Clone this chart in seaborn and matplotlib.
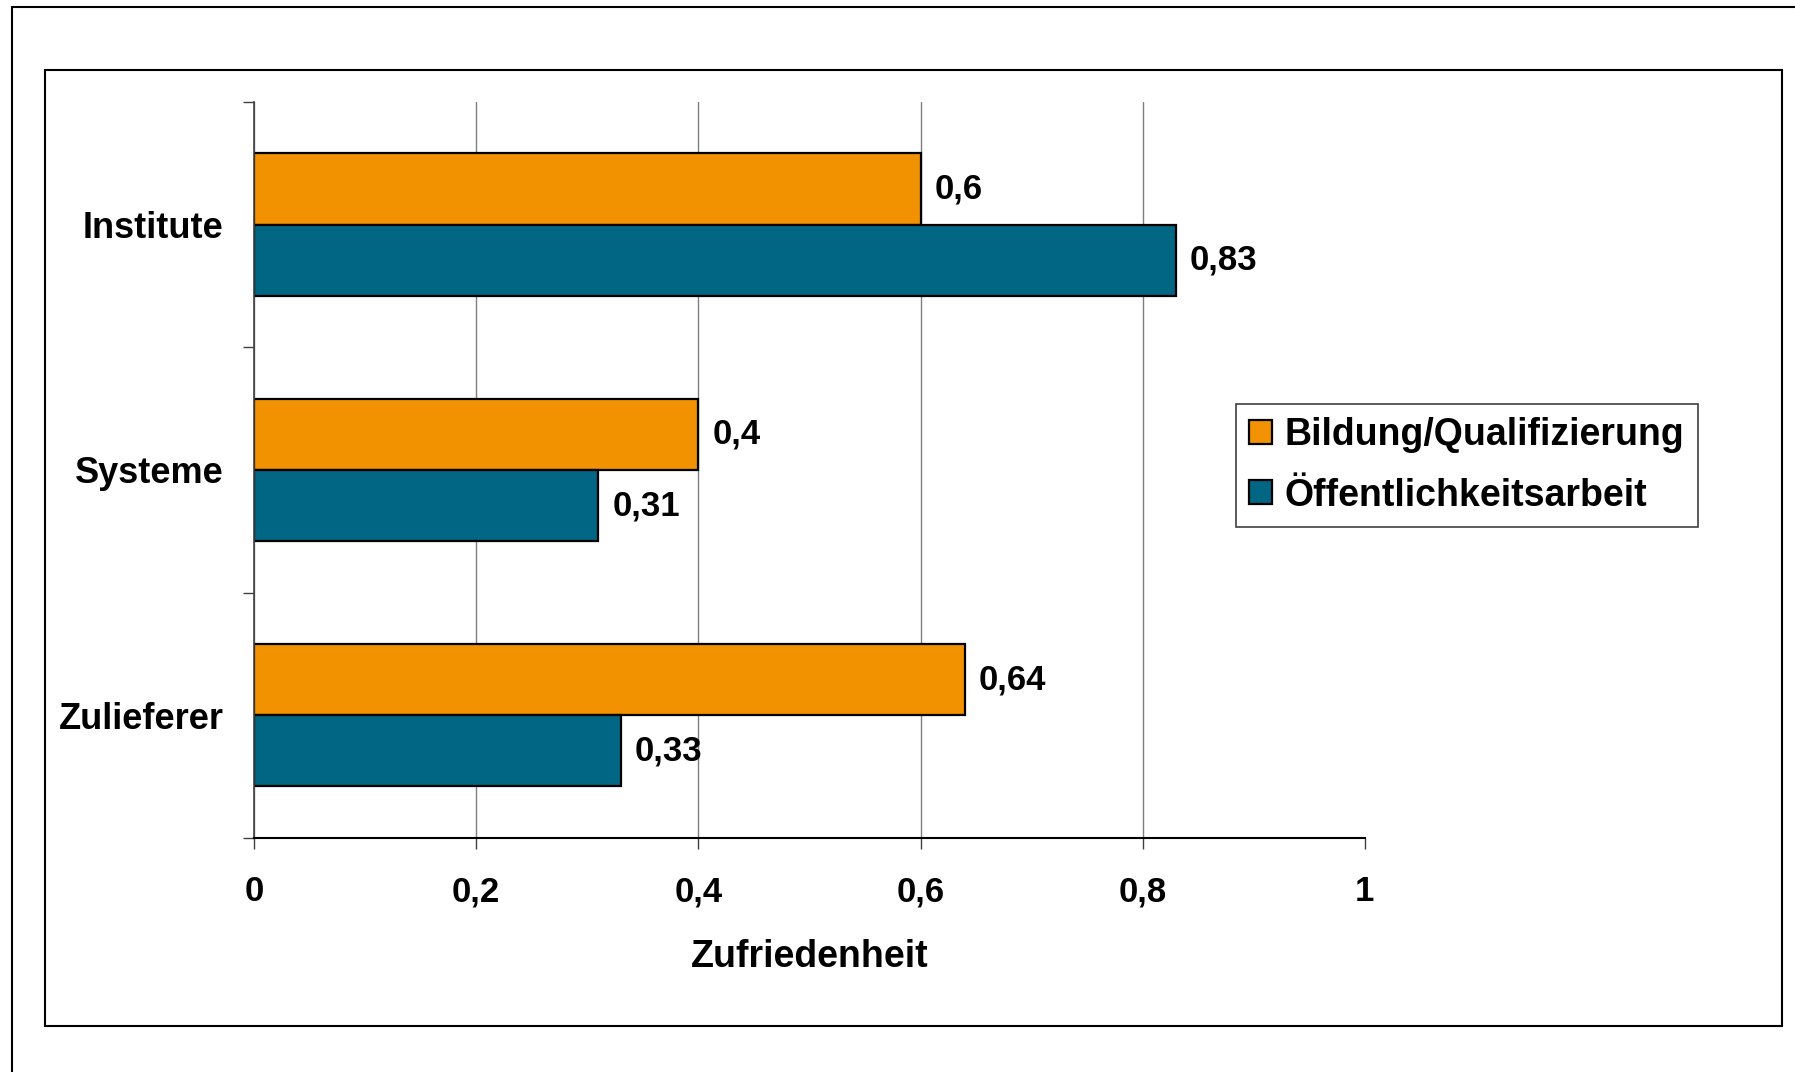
import matplotlib
matplotlib.use("Agg")
import matplotlib.pyplot as plt
import matplotlib.patches as mpatches
import pandas as pd
import seaborn as sns

# data
categories = ["Institute", "Systeme", "Zulieferer"]
series_names = ["Bildung/Qualifizierung", "Öffentlichkeitsarbeit"]
bildung = [0.6, 0.4, 0.64]
oeffentlichkeit = [0.83, 0.31, 0.33]
x_ticks = [0, 0.2, 0.4, 0.6, 0.8, 1]
x_label = "Zufriedenheit"

colors = ["#F39200", "#006683"]

df = pd.DataFrame({
    "Kategorie": categories * 2,
    "Reihe": [series_names[0]] * 3 + [series_names[1]] * 3,
    "Wert": bildung + oeffentlichkeit,
})

sns.set_theme(style="white")
plt.rcParams["font.family"] = ["Liberation Sans", "DejaVu Sans"]
plt.rcParams["font.weight"] = "bold"
plt.rcParams["text.color"] = "black"
plt.rcParams["axes.labelcolor"] = "black"
plt.rcParams["xtick.labelcolor"] = "black"
plt.rcParams["ytick.labelcolor"] = "black"

fig = plt.figure(figsize=(17.95, 10.72), dpi=100)
ax = fig.add_axes([0.1415, 0.2183, 0.6189, 0.6866])

sns.barplot(data=df, y="Kategorie", x="Wert", hue="Reihe", orient="h",
            palette=colors, width=0.58, edgecolor="black", linewidth=1.6,
            saturation=1, ax=ax, legend=False)

# value labels
for container in ax.containers:
    labels = [f"{b.get_width():g}".replace(".", ",") for b in container]
    ax.bar_label(container, labels=labels, padding=10, fontsize=25,
                 fontweight="bold", color="black")

ax.set_xlim(0, 1)
ax.set_ylim(2.5, -0.5)
ax.set_xticks(x_ticks)
ax.set_xticklabels([f"{t:g}".replace(".", ",") for t in x_ticks],
                   fontsize=25, fontweight="bold", color="black")
ax.set_yticks(range(len(categories)))
ax.set_yticklabels(categories, fontsize=26, fontweight="bold", color="black")
ax.set_yticks([-0.5, 0.5, 1.5, 2.5], minor=True)
ax.tick_params(axis="y", which="major", length=0, pad=22)
ax.tick_params(axis="y", which="minor", length=8, width=1, color="#404040",
               left=True)
ax.tick_params(axis="x", length=8, width=1, color="#404040", bottom=True,
               pad=19)
ax.set_xlabel(x_label, fontsize=27, fontweight="bold", labelpad=22,
              color="black")
ax.set_ylabel("")

ax.xaxis.grid(True, color="#7f7f7f", linewidth=1)
ax.set_axisbelow(True)
ax.xaxis.get_gridlines()[-1].set_visible(False)

for side in ["top", "right"]:
    ax.spines[side].set_visible(False)
ax.spines["left"].set_color("#404040")
ax.spines["left"].set_linewidth(1.2)
ax.spines["bottom"].set_color("black")
ax.spines["bottom"].set_linewidth(1.5)

handles = [mpatches.Patch(facecolor=c, edgecolor="black", linewidth=1.6)
           for c in colors]
leg = fig.legend(handles, series_names, loc="upper left",
                 bbox_to_anchor=(0.6886, 0.6231),
                 prop={"weight": "bold", "size": 27},
                 handlelength=0.6, handleheight=0.6, handletextpad=0.35,
                 labelspacing=0.65, borderpad=0.35, borderaxespad=0,
                 fancybox=False, framealpha=1, edgecolor="#404040")
leg.get_frame().set_linewidth(1.2)

# inner chart frame and outer page frame
fig.patches.append(mpatches.Rectangle((0.0251, 0.0429), 0.9677, 0.8918,
                                      transform=fig.transFigure, fill=False,
                                      edgecolor="black", linewidth=1.5))
fig.patches.append(mpatches.Rectangle((0.0067, -0.2), 1.3, 1.1935,
                                      transform=fig.transFigure, fill=False,
                                      edgecolor="black", linewidth=1.5))

fig.savefig("out.png", dpi=100)
